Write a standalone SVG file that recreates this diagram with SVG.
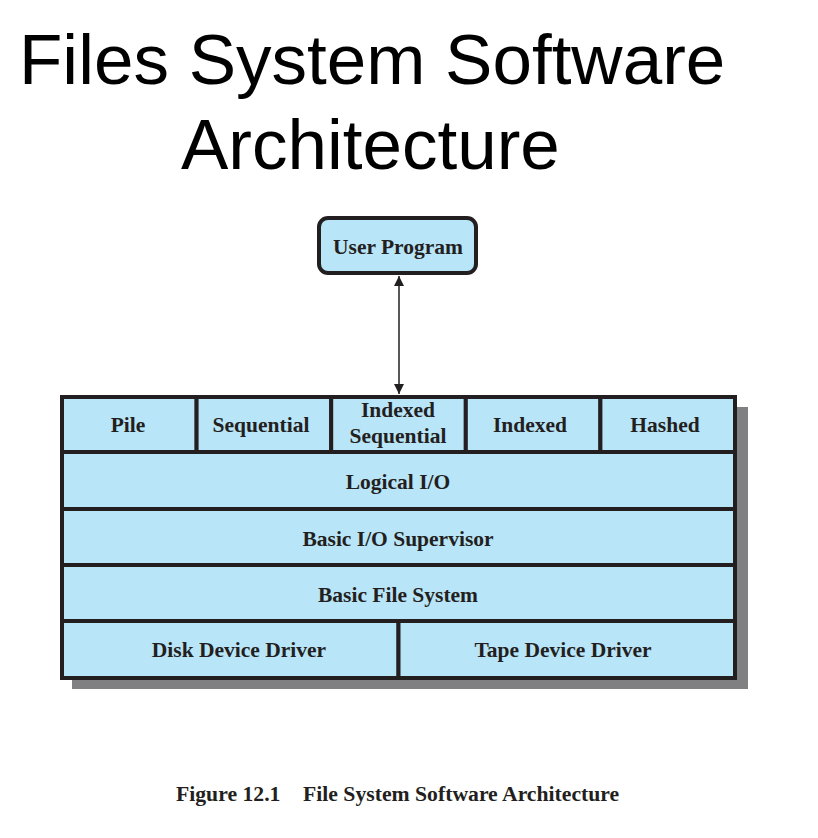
<svg xmlns="http://www.w3.org/2000/svg" width="818" height="838" viewBox="0 0 818 838">
<defs>
<style>
.box{fill:#b9e5f9;stroke:#231f20;stroke-width:4}
.lbl{font-family:"Liberation Serif",serif;font-weight:bold;font-size:21.5px;fill:#231f20;text-anchor:middle}
.title{font-family:"Liberation Sans",Arial,sans-serif;font-size:71px;fill:#000}
</style>
<marker id="ah" viewBox="0 0 10 10" refX="10" refY="5" markerWidth="10" markerHeight="10" markerUnits="userSpaceOnUse" orient="auto-start-reverse">
<path d="M0,0 L10,5 L0,10 z" fill="#231f20"/>
</marker>
</defs>
<rect width="818" height="838" fill="#fff"/>
<text class="title" x="19" y="84">Files System Software</text>
<text class="title" x="181" y="169">Architecture</text>

<g id="connectors">
<line x1="399" y1="276" x2="399" y2="394" stroke="#231f20" stroke-width="1.5" marker-start="url(#ah)" marker-end="url(#ah)"/>
</g>

<g id="user-program">
<rect class="box" x="319" y="218" width="157" height="55" rx="9" stroke-width="3.5"/>
<text class="lbl" x="398" y="254">User Program</text>
</g>

<rect x="72" y="407" width="676" height="282" fill="#808083"/>

<g id="pile"><rect class="box" x="62" y="397" width="134.6" height="55"/><text class="lbl" x="128" y="432">Pile</text></g>
<g id="sequential"><rect class="box" x="196.6" y="397" width="134.6" height="55"/><text class="lbl" x="261" y="432">Sequential</text></g>
<g id="indexed-sequential"><rect class="box" x="331.2" y="397" width="134.6" height="55"/><text class="lbl" x="398" y="417">Indexed</text><text class="lbl" x="398" y="443">Sequential</text></g>
<g id="indexed"><rect class="box" x="465.8" y="397" width="134.6" height="55"/><text class="lbl" x="530" y="432">Indexed</text></g>
<g id="hashed"><rect class="box" x="600.4" y="397" width="134.6" height="55"/><text class="lbl" x="665" y="432">Hashed</text></g>
<g id="logical-io"><rect class="box" x="62" y="452" width="673" height="57"/><text class="lbl" x="398" y="489">Logical I/O</text></g>
<g id="basic-io-supervisor"><rect class="box" x="62" y="509" width="673" height="56"/><text class="lbl" x="398" y="546">Basic I/O Supervisor</text></g>
<g id="basic-file-system"><rect class="box" x="62" y="565" width="673" height="56"/><text class="lbl" x="398" y="602">Basic File System</text></g>
<g id="disk-device-driver"><rect class="box" x="62" y="621" width="336.5" height="57"/><text class="lbl" x="239" y="657">Disk Device Driver</text></g>
<g id="tape-device-driver"><rect class="box" x="398.5" y="621" width="336.5" height="57"/><text class="lbl" x="563" y="657">Tape Device Driver</text></g>

<text x="176" y="801" font-family="Liberation Serif,serif" font-weight="bold" font-size="21.7" fill="#231f20">Figure 12.1<tspan x="303">File System Software Architecture</tspan></text>
</svg>
